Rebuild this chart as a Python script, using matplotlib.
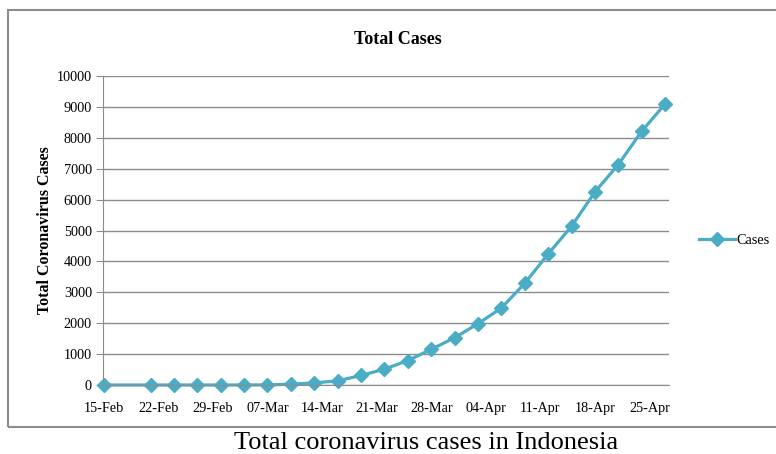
import matplotlib.pyplot as plt
import matplotlib.dates as mdates
import matplotlib.patches as patches
import numpy as np
from datetime import datetime, timedelta

plt.rcParams['font.family'] = ['Liberation Serif', 'DejaVu Serif']

dates = ['2020-02-15', '2020-02-21', '2020-02-24', '2020-02-27', '2020-03-01', '2020-03-04',
         '2020-03-07', '2020-03-10', '2020-03-13', '2020-03-16', '2020-03-19', '2020-03-22',
         '2020-03-25', '2020-03-28', '2020-03-31', '2020-04-03', '2020-04-06', '2020-04-09',
         '2020-04-12', '2020-04-15', '2020-04-18', '2020-04-21', '2020-04-24', '2020-04-27']
cases = [0, 0, 0, 0, 0, 2, 4, 27, 69, 134, 309, 514, 790, 1155, 1528, 1986, 2491, 3293,
         4241, 5136, 6248, 7135, 8211, 9096]
y_ticks = [0, 1000, 2000, 3000, 4000, 5000, 6000, 7000, 8000, 9000, 10000]

x = [datetime.strptime(d, '%Y-%m-%d') for d in dates]
color = '#4BACC6'

fig = plt.figure(figsize=(7.76, 4.54), dpi=100)
ax = fig.add_axes([103/776, 69/454, 566/776, 309/454])

ax.plot(x, cases, marker='D', markersize=7.5, linewidth=2.3, color=color, label='Cases', clip_on=False)

ax.set_ylim(0, 10000)
ax.set_yticks(y_ticks)
ax.set_xlim(x[0] - timedelta(days=0.1), x[-1] + timedelta(days=0.5))
tick_dates = [x[0] + timedelta(days=7*i) for i in range(11)]
ax.set_xticks(tick_dates)
ax.xaxis.set_major_formatter(mdates.DateFormatter('%d-%b'))

ax.grid(axis='y', color='#8c8c8c', linewidth=1)
ax.set_axisbelow(True)
for s in ['top', 'right']:
    ax.spines[s].set_visible(False)
ax.spines['left'].set_color('#8c8c8c')
ax.spines['bottom'].set_color('#8c8c8c')
ax.tick_params(axis='y', labelsize=10.3, length=5, color='#8c8c8c', pad=3)
ax.tick_params(axis='x', labelsize=10.3, length=0, pad=12)

ax.set_ylabel('Total Coronavirus Cases', fontsize=11.5, fontweight='bold', labelpad=3)
fig.text(398/776, 1-40/454, 'Total Cases', ha='center', va='center', fontsize=13, fontweight='bold')

ax.legend(loc='center left', bbox_to_anchor=(692/776, 1-240/454), bbox_transform=fig.transFigure,
          frameon=False, fontsize=10.3, handlelength=2.5, handletextpad=0.1, borderpad=0)

# chart border
fig.patches.append(patches.Rectangle((8/776, 1-427/454), 1.0, 417/454, transform=fig.transFigure,
                                     fill=False, edgecolor='#8c8c8c', linewidth=1.5))

fig.text(426/776, 1-443/454, 'Total coronavirus cases in Indonesia', ha='center', va='center', fontsize=19)

plt.savefig('out.png', dpi=100)
